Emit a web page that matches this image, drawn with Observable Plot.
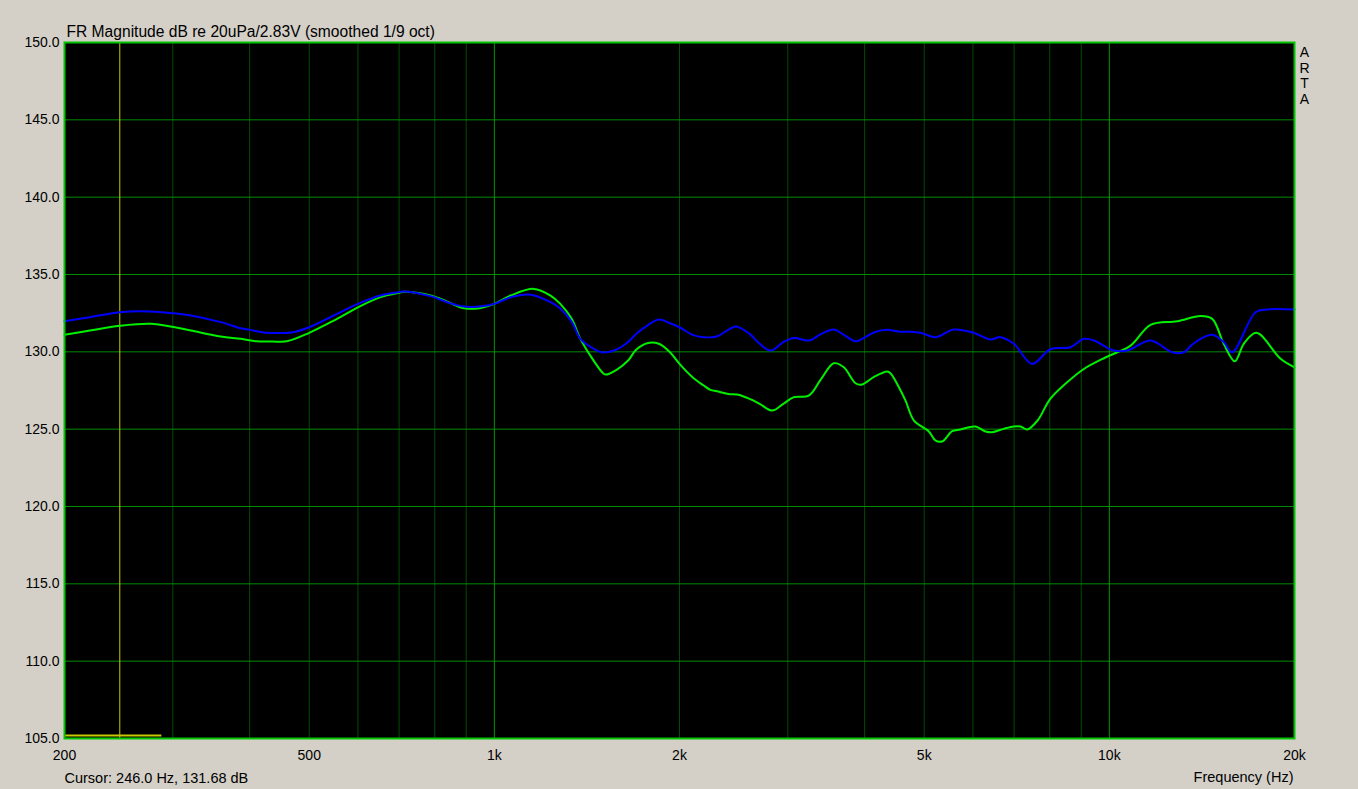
<!DOCTYPE html>
<html>
<head>
<meta charset="utf-8">
<script src="https://cdn.jsdelivr.net/npm/d3@7"></script>
<script src="https://cdn.jsdelivr.net/npm/@observablehq/plot@0.6"></script>
<style>
  html, body { margin: 0; padding: 0; background: #d4d0c8; }
  #chart { width: 1358px; height: 789px; position: relative; }
</style>
</head>
<body>
<div id="chart"></div>
<script>
// ---- data ----
const titleText = "FR Magnitude dB re 20uPa/2.83V (smoothed 1/9 oct)";
const cursorText = "Cursor: 246.0 Hz, 131.68 dB";
const xLabel = "Frequency (Hz)";
const brand = "A\nR\nT\nA";

const xTicks = [200, 500, 1000, 2000, 5000, 10000, 20000];
const xTickLabels = ["200", "500", "1k", "2k", "5k", "10k", "20k"];
const yTicks = [105, 110, 115, 120, 125, 130, 135, 140, 145, 150];
const minorGrid = [300, 400, 500, 600, 700, 800, 900, 2000, 3000, 4000, 5000, 6000, 7000, 8000, 9000];
const majorGrid = [1000, 10000];
const cursorFreq = 246;
const markerLevel = 105.2;
const markerFreqs = [200, 288];

const blueFreq = [200, 220, 246, 266, 301, 321, 359, 387, 400, 421, 445, 468, 500, 548, 600, 653, 700, 712, 787, 838, 892, 946,
  1000, 1063, 1145, 1234, 1280, 1335, 1380, 1430, 1497, 1580, 1650, 1700, 1772, 1851, 1930, 2000, 2100, 2190,
  2300, 2400, 2472, 2600, 2700, 2812, 2950, 3069, 3246, 3400, 3563, 3700, 3866, 3963, 4150, 4353, 4550, 4750, 4931,
  5223, 5584, 6013, 6409, 6652, 6993, 7489, 8015, 8646, 9088, 9436, 10169, 10692, 11667, 12651, 13213, 13580, 14070,
  14700, 15346, 15837, 17283, 18055, 20000];
const blueDb = [131.98, 132.24, 132.56, 132.63, 132.5, 132.35, 131.92, 131.52, 131.42, 131.25, 131.22, 131.25, 131.59, 132.35, 133.1, 133.64, 133.86, 133.9, 133.6, 133.21, 132.93, 132.93,
  133.1, 133.53, 133.69, 133.21, 132.8, 131.95, 130.84, 130.35, 129.97, 130.15, 130.63, 131.16, 131.7, 132.09, 131.85, 131.59, 131.1, 130.95,
  130.99, 131.42, 131.64, 131.16, 130.52, 130.08, 130.63, 130.9, 130.73, 131.16, 131.44, 131.1, 130.69, 130.84, 131.27, 131.42, 131.3, 131.3, 131.23,
  130.95, 131.44, 131.23, 130.8, 130.95, 130.52, 129.22, 130.17, 130.3, 130.84, 130.73, 130.08, 130.08, 130.73, 129.97, 129.97, 130.4, 130.84,
  131.1, 130.63, 129.97, 132.56, 132.74, 132.74];

const greenFreq = [200, 220, 246, 276, 301, 321, 359, 387, 411, 436, 460, 500, 548, 600, 653, 700, 712, 787, 838, 892, 946,
  1000, 1063, 1159, 1234, 1280, 1335, 1380, 1430, 1497, 1516, 1580, 1650, 1700, 1772, 1851, 1930, 2000, 2100, 2190,
  2245, 2300, 2400, 2482, 2600, 2700, 2830, 2950, 3069, 3246, 3400, 3563, 3700, 3866, 3963, 4150, 4353, 4406, 4550, 4662, 4811,
  5083, 5218, 5357, 5552, 5724, 6058, 6289, 6446, 6733, 6993, 7174, 7354, 7643, 8015, 8539, 9088, 9870, 10827, 11667, 12893,
  14070, 14700, 15346, 15994, 16541, 17347, 18982, 20000];
const greenDb = [131.1, 131.38, 131.68, 131.81, 131.6, 131.38, 130.99, 130.84, 130.68, 130.67, 130.68, 131.23, 132.02, 132.88, 133.54, 133.82, 133.88, 133.64, 133.25, 132.82, 132.82,
  133.1, 133.64, 134.07, 133.64, 133.1, 132.15, 130.84, 129.8, 128.68, 128.53, 128.84, 129.44, 130.13, 130.56, 130.52, 129.97, 129.22, 128.36, 127.82,
  127.54, 127.45, 127.28, 127.24, 126.96, 126.64, 126.2, 126.64, 127.07, 127.17, 128.25, 129.26, 129.0, 127.97, 127.89, 128.4, 128.73, 128.62, 127.7, 126.85, 125.56,
  124.87, 124.26, 124.22, 124.87, 124.98, 125.17, 124.85, 124.8, 125.02, 125.17, 125.17, 124.98, 125.56, 126.96, 128.03, 128.89, 129.65, 130.4, 131.75, 131.98,
  132.32, 132.13, 130.52, 129.39, 130.52, 131.23, 129.55, 129.0];

// ---- build tables ----
const blue = blueFreq.map((f, i) => ({f, db: blueDb[i]}));
const green = greenFreq.map((f, i) => ({f, db: greenDb[i]}));
const tickLabel = new Map(xTicks.map((t, i) => [t, xTickLabels[i]]));

const plot = Plot.plot({
  width: 1358,
  height: 789,
  marginLeft: 64,
  marginRight: 64,
  marginTop: 42,
  marginBottom: 51,
  style: {background: "#d4d0c8", fontFamily: "'Liberation Sans', Arial, sans-serif", fontSize: "14px", color: "#000"},
  x: {type: "log", domain: [200, 20000]},
  y: {domain: [105, 150]},
  marks: [
    Plot.frame({fill: "#000"}),
    Plot.ruleX(minorGrid, {stroke: "#004c00", strokeWidth: 1}),
    Plot.ruleY(yTicks.filter(t => t > 105 && t < 150), {stroke: "#008c00", strokeWidth: 1}),
    Plot.ruleX(majorGrid, {stroke: "#009400", strokeWidth: 1}),
    Plot.ruleX([cursorFreq], {stroke: "#c8c800", strokeWidth: 1}),
    Plot.ruleY([markerLevel], {x1: markerFreqs[0], x2: markerFreqs[1], stroke: "#c8c800", strokeWidth: 2}),
    Plot.line(green, {x: "f", y: "db", stroke: "#00f000", strokeWidth: 2, curve: "catmull-rom"}),
    Plot.line(blue, {x: "f", y: "db", stroke: "#0000ff", strokeWidth: 2, curve: "catmull-rom"}),
    Plot.frame({stroke: "#00c400", strokeWidth: 2}),
    Plot.axisY(yTicks, {tickSize: 0, tickPadding: 5, tickFormat: d3.format(".1f"), fontSize: 14, fill: "#000", label: null}),
    Plot.axisX(xTicks, {tickSize: 0, tickPadding: 12, tickFormat: d => tickLabel.get(d), fontSize: 14, fill: "#000", label: null}),
    Plot.text([titleText], {frameAnchor: "top-left", dx: 2, dy: -6, lineAnchor: "bottom", textAnchor: "start", fontSize: 15.6, fill: "#000"}),
    Plot.text([cursorText], {frameAnchor: "bottom-left", dx: 0, dy: 44, lineAnchor: "bottom", textAnchor: "start", fontSize: 14.5, fill: "#000"}),
    Plot.text([xLabel], {frameAnchor: "bottom-right", dx: -1, dy: 43, lineAnchor: "bottom", textAnchor: "end", fontSize: 14.5, fill: "#000"}),
    Plot.text([brand], {frameAnchor: "top-right", dx: 10, dy: 4, lineAnchor: "top", textAnchor: "middle", fontSize: 14, lineHeight: 1.1, fill: "#000"})
  ]
});
document.getElementById("chart").appendChild(plot);
</script>
</body>
</html>
